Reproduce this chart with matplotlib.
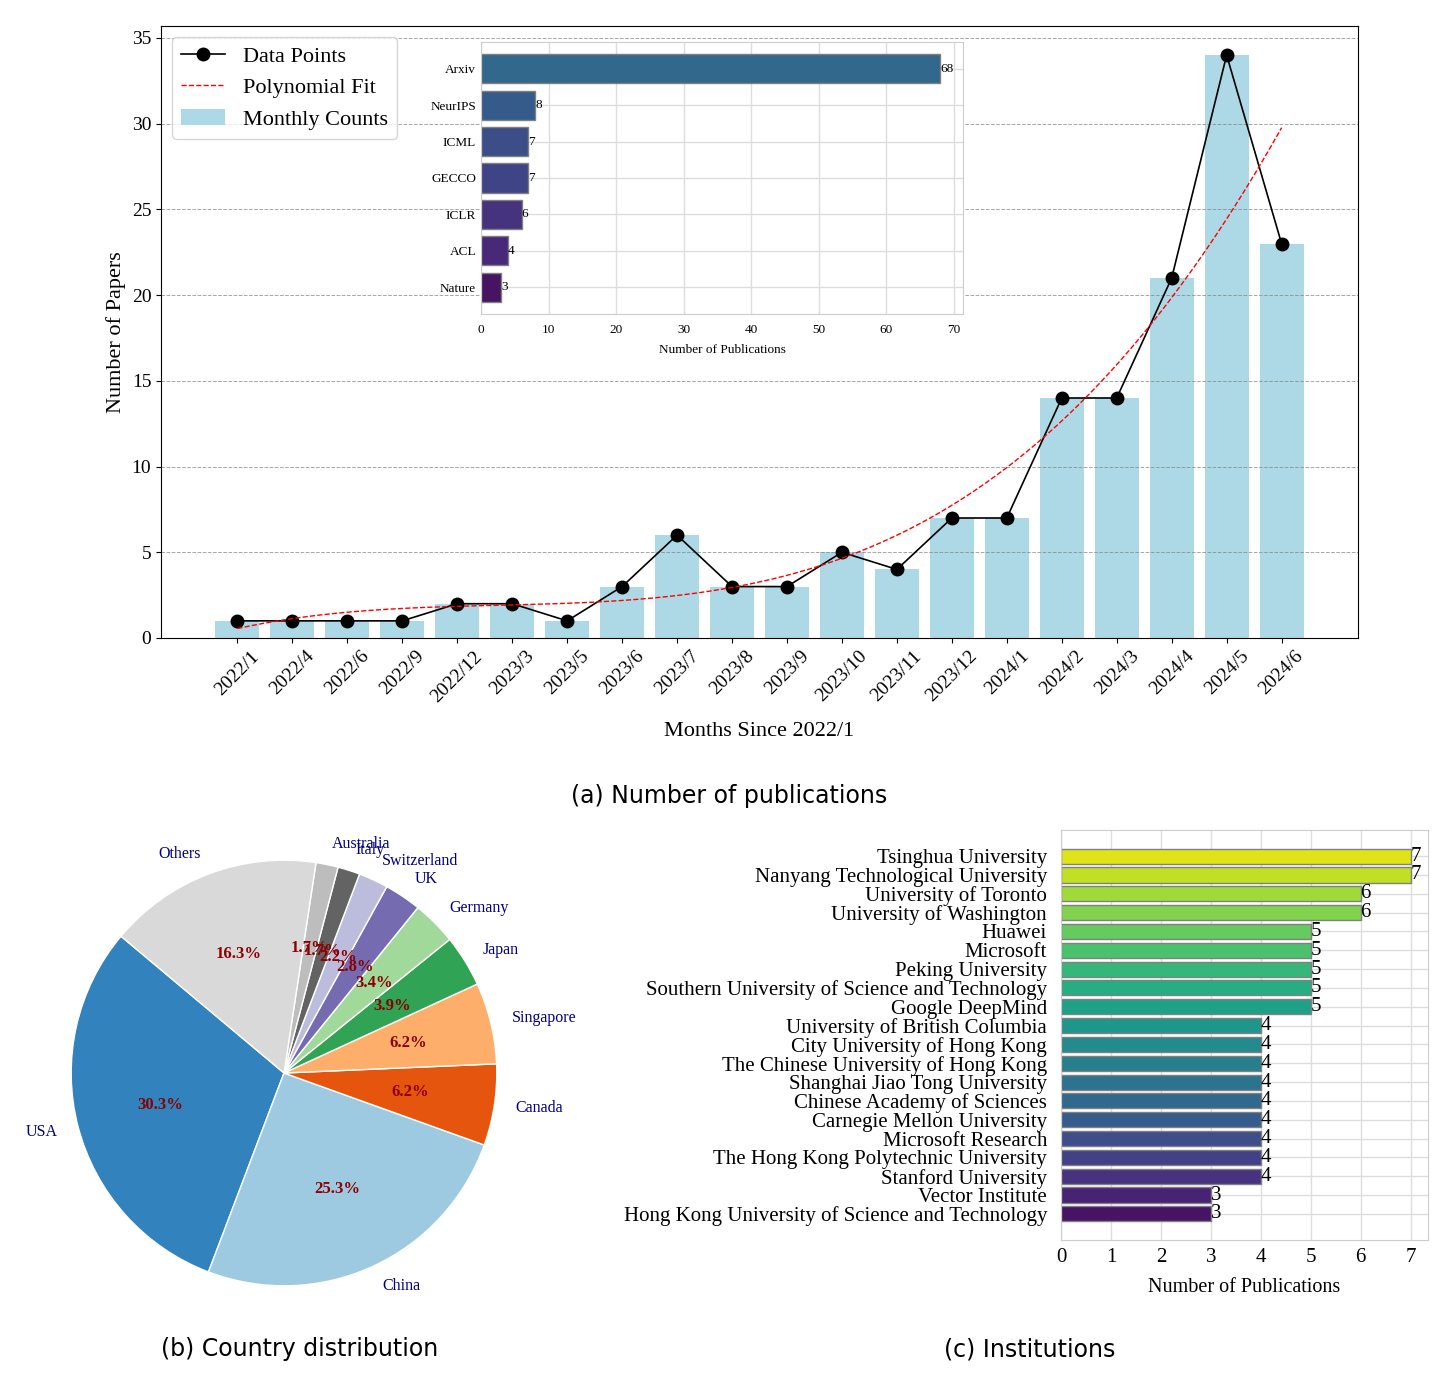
import numpy as np
import matplotlib.pyplot as plt

plt.rcParams['font.family'] = ['Liberation Serif', 'DejaVu Serif']

# (a) monthly counts
months = ['2022/1', '2022/4', '2022/6', '2022/9', '2022/12', '2023/3', '2023/5',
          '2023/6', '2023/7', '2023/8', '2023/9', '2023/10', '2023/11', '2023/12',
          '2024/1', '2024/2', '2024/3', '2024/4', '2024/5', '2024/6']
counts = [1, 1, 1, 1, 2, 2, 1, 3, 6, 3, 3, 5, 4, 7, 7, 14, 14, 21, 34, 23]

# inset: venues
venues = ['Arxiv', 'NeurIPS', 'ICML', 'GECCO', 'ICLR', 'ACL', 'Nature']
venue_counts = [68, 8, 7, 7, 6, 4, 3]
venue_colors = ['#31688c', '#355b8b', '#3b4e88', '#3f4486', '#46337e', '#482879', '#461461']

# (b) countries
countries = ['USA', 'China', 'Canada', 'Singapore', 'Japan', 'Germany', 'UK',
             'Switzerland', 'Italy', 'Australia', 'Others']
country_counts = [54, 45, 11, 11, 7, 6, 5, 4, 3, 3, 29]
country_colors = ['#3182bd', '#9ecae1', '#e6550d', '#fdae6b', '#31a354', '#a1d99b',
                  '#756bb1', '#bcbddc', '#636363', '#bdbdbd', '#d9d9d9']

# (c) institutions
institutions = ['Tsinghua University', 'Nanyang Technological University',
                'University of Toronto', 'University of Washington', 'Huawei',
                'Microsoft', 'Peking University',
                'Southern University of Science and Technology', 'Google DeepMind',
                'University of British Columbia', 'City University of Hong Kong',
                'The Chinese University of Hong Kong', 'Shanghai Jiao Tong University',
                'Chinese Academy of Sciences', 'Carnegie Mellon University',
                'Microsoft Research', 'The Hong Kong Polytechnic University',
                'Stanford University', 'Vector Institute',
                'Hong Kong University of Science and Technology']
inst_counts = [7, 7, 6, 6, 5, 5, 5, 5, 5, 4, 4, 4, 4, 4, 4, 4, 4, 4, 3, 3]

W, H = 1456, 1380
fig = plt.figure(figsize=(W / 100, H / 100), dpi=100)


def box(left, top, right, bottom):
    return [left / W, 1 - bottom / H, (right - left) / W, (bottom - top) / H]


# ---- (a) main chart
ax = fig.add_axes(box(161, 26, 1358, 638))
x = np.arange(len(months))
ax.bar(x, counts, width=0.8, color='lightblue', label='Monthly Counts')
ax.plot(x, counts, 'o-', color='black', markersize=9, linewidth=1.2, label='Data Points')
coef = np.polyfit(x, counts, 3)
xs = np.linspace(x[0], x[-1], 300)
ax.plot(xs, np.polyval(coef, xs), '--', color='red', linewidth=1, label='Polynomial Fit')
ax.set_xticks(x)
ax.set_xticklabels(months, rotation=45, fontsize=14)
ax.tick_params(axis='y', labelsize=14)
ax.set_xlabel('Months Since 2022/1', fontsize=16, labelpad=12)
ax.set_ylabel('Number of Papers', fontsize=16)
ax.yaxis.grid(True, linestyle='--', color='grey', alpha=0.7, linewidth=0.7)
h, l = ax.get_legend_handles_labels()
order = [l.index('Data Points'), l.index('Polynomial Fit'), l.index('Monthly Counts')]
ax.legend([h[i] for i in order], [l[i] for i in order], loc='upper left', fontsize=16)

# inset
ins = fig.add_axes(box(481, 42, 963, 314))
ins.set_facecolor('white')
ins.barh(venues, venue_counts, height=0.8, color=venue_colors, edgecolor='grey',
         linewidth=1, zorder=2)
ins.invert_yaxis()
for i, v in enumerate(venue_counts):
    ins.text(v, i, str(v), va='center', ha='left', fontsize=9.5)
ins.grid(True, color='#dddddd', linewidth=1, zorder=0)
ins.set_axisbelow(True)
for s in ins.spines.values():
    s.set_color('#cccccc')
ins.tick_params(length=0, labelsize=9.5)
ins.tick_params(axis='x', pad=7)
ins.set_xlabel('Number of Publications', fontsize=9.5, labelpad=6)

fig.text(729 / W, 1 - 796 / H, '(a) Number of publications', ha='center', va='center',
         fontsize=17, family='DejaVu Sans')

# ---- (b) pie
axp = fig.add_axes(box(18, 807, 550, 1339))
wedges, texts, autotexts = axp.pie(country_counts, labels=countries, colors=country_colors,
                                   autopct='%1.1f%%', startangle=140, pctdistance=0.6,
                                   wedgeprops={'edgecolor': 'white', 'linewidth': 1},
                                   textprops={'fontsize': 11.5, 'color': 'navy'})
for t in autotexts:
    t.set_color('darkred')
    t.set_fontweight('bold')
    t.set_fontsize(12)
fig.text(300 / W, 1 - 1349 / H, '(b) Country distribution', ha='center', va='center',
         fontsize=17, family='DejaVu Sans')

# ---- (c) institutions
axi = fig.add_axes(box(1061, 830, 1428, 1240))
inst_colors = plt.cm.viridis(np.linspace(0, 1, len(institutions) + 2)[1:-1])[::-1]
axi.barh(institutions, inst_counts, height=0.8, color=inst_colors, edgecolor='grey',
         linewidth=1, zorder=2)
axi.invert_yaxis()
for i, v in enumerate(inst_counts):
    axi.text(v, i, str(v), va='center', ha='left', fontsize=15)
axi.set_xticks(range(8))
axi.grid(True, color='#dddddd', linewidth=1, zorder=0)
axi.set_axisbelow(True)
for s in axi.spines.values():
    s.set_color('#cccccc')
axi.tick_params(length=0, labelsize=15)
axi.tick_params(axis='x', pad=6)
axi.tick_params(axis='y', pad=10)
axi.set_xlabel('Number of Publications', fontsize=14.5, labelpad=8)
fig.text(1030 / W, 1 - 1349 / H, '(c) Institutions', ha='center', va='center',
         fontsize=17, family='DejaVu Sans')

fig.savefig('out.png', dpi=100)
